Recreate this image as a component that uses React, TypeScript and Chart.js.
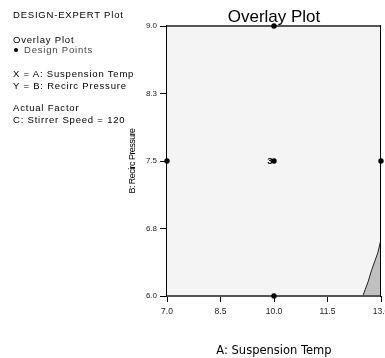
import React, { useEffect, useRef } from "react";
import { Chart, registerables } from "chart.js";

Chart.register(...registerables);

// ---- data ----
const designX = [10, 10, 7, 13, 10];
const designY = [9, 7.5, 7.5, 7.5, 6];
const designCounts = [1, 3, 1, 1, 1];

const boundaryX = [12.49, 12.64, 12.73, 12.83, 12.91, 13.0];
const boundaryY = [6.0, 6.16, 6.28, 6.39, 6.48, 6.63];

const xTickValues = [7, 8.5, 10, 11.5, 13];
const xTickLabels = ["7.0", "8.5", "10.0", "11.5", "13.0"];
const yTickValues = [6, 6.75, 7.5, 8.25, 9];
const yTickLabels = ["6.0", "6.8", "7.5", "8.3", "9.0"];

const chartTitle = "Overlay Plot";
const xTitle = "A: Suspension Temp";
const yTitle = "B: Recirc Pressure";

const infoLines = [
  "DESIGN-EXPERT Plot",
  "Overlay Plot",
  "Design Points",
  "X = A: Suspension Temp",
  "Y = B: Recirc Pressure",
  "Actual Factor",
  "C: Stirrer Speed = 120",
];

const SANS = "'Liberation Sans', Arial, Helvetica, sans-serif";

const framePlugin = {
  id: "plotFrame",
  beforeDraw(chart: any) {
    const { ctx, chartArea: a } = chart;
    ctx.save();
    ctx.fillStyle = "#f4f4f4";
    ctx.fillRect(a.left, a.top, a.right - a.left, a.bottom - a.top);
    ctx.restore();
  },
  beforeDatasetDraw(chart: any, args: any) {
    if (args.index !== 0) return;
    const { ctx, chartArea: a } = chart;
    ctx.save();
    ctx.strokeStyle = "#555";
    ctx.lineWidth = 2;
    ctx.beginPath();
    ctx.moveTo(a.left, a.top);
    ctx.lineTo(a.right, a.top);
    ctx.moveTo(a.left, a.bottom);
    ctx.lineTo(a.right, a.bottom);
    ctx.stroke();
    ctx.strokeStyle = "#000";
    ctx.lineWidth = 1;
    ctx.beginPath();
    ctx.moveTo(a.left - 0.5, a.top - 1);
    ctx.lineTo(a.left - 0.5, a.bottom + 1);
    ctx.moveTo(a.right - 0.5, a.top - 1);
    ctx.lineTo(a.right - 0.5, a.bottom + 1);
    ctx.stroke();
    ctx.restore();
  },
  afterDatasetsDraw(chart: any) {
    const { ctx } = chart;
    const xs = chart.scales.x;
    const ys = chart.scales.y;
    ctx.save();
    ctx.fillStyle = "#000";
    ctx.font = "bold 9.5px " + SANS;
    ctx.textAlign = "right";
    ctx.textBaseline = "middle";
    designCounts.forEach((c, i) => {
      if (c > 1) {
        const px = xs.getPixelForValue(designX[i]);
        const py = ys.getPixelForValue(designY[i]);
        ctx.fillText(String(c), px - 1.5, py + 0.5);
      }
    });
    ctx.restore();
  },
};

function condenseTitle(s: any) {
  if (s.__condensed) return;
  s.__condensed = true;
  const orig = s.drawTitle.bind(s);
  s.drawTitle = () => {
    const c = s.ctx;
    const prev = c.letterSpacing;
    c.letterSpacing = "-0.55px";
    orig();
    c.letterSpacing = prev || "0px";
  };
}

export default function App() {
  const ref = useRef<HTMLCanvasElement | null>(null);

  useEffect(() => {
    if (!ref.current) return;
    const chart = new Chart(ref.current, {
      type: "scatter",
      data: {
        datasets: [
          {
            type: "scatter",
            data: designX.map((x, i) => ({ x, y: designY[i] })),
            pointRadius: 2.7,
            pointBackgroundColor: "#000",
            pointBorderColor: "#000",
            pointBorderWidth: 0,
            clip: false,
          } as any,
          {
            type: "line",
            data: boundaryX.map((x, i) => ({ x, y: boundaryY[i] })),
            fill: "start",
            backgroundColor: "#c0c0c0",
            borderColor: "#222",
            borderWidth: 1,
            pointRadius: 0,
            tension: 0,
          } as any,
        ],
      },
      options: {
        animation: false,
        responsive: false,
        events: [],
        layout: { padding: { left: 0, right: 4, top: 0, bottom: 0 } },
        plugins: {
          legend: { display: false },
          tooltip: { enabled: false },
          title: {
            display: true,
            text: chartTitle,
            fullSize: false,
            color: "#000",
            font: { family: SANS, size: 17, weight: "normal", lineHeight: 1 },
            padding: { top: 9, bottom: 0 },
          },
        },
        scales: {
          x: {
            type: "linear",
            min: 7,
            max: 13,
            afterBuildTicks: (s: any) => {
              s.ticks = xTickValues.map((v) => ({ value: v }));
            },
            afterFit: (s: any) => {
              s.height = 62;
              s.paddingLeft = 0;
              s.paddingRight = 0;
            },
            ticks: {
              callback: (_v: any, i: number) => xTickLabels[i],
              font: { family: SANS, size: 8.5 },
              color: "#222",
              padding: 5,
              maxRotation: 0,
              autoSkip: false,
            },
            grid: { drawOnChartArea: false, drawTicks: true, tickLength: 6, tickColor: "#000", color: "#000" },
            border: { display: false },
            title: {
              display: true,
              text: xTitle,
              color: "#000",
              font: { family: "'DejaVu Sans', sans-serif", size: 11.5 },
              padding: { top: 2, bottom: 0 },
            },
          },
          y: {
            type: "linear",
            min: 6,
            max: 9,
            afterBuildTicks: (s: any) => {
              s.ticks = yTickValues.map((v) => ({ value: v }));
            },
            afterFit: (s: any) => {
              s.width = 167;
              s.paddingTop = 0;
              s.paddingBottom = 0;
              condenseTitle(s);
            },
            ticks: {
              callback: (_v: any, i: number) => yTickLabels[i],
              font: { family: SANS, size: 8 },
              color: "#222",
              padding: 3,
              autoSkip: false,
            },
            grid: { drawOnChartArea: false, drawTicks: true, tickLength: 7, tickColor: "#000", color: "#000" },
            border: { display: false },
            title: {
              display: true,
              text: yTitle,
              color: "#000",
              font: { family: SANS, size: 9 },
              padding: { top: 127.5, bottom: 0 },
            },
          },
        },
      } as any,
      plugins: [framePlugin],
    });
    return () => chart.destroy();
  }, []);

  const lineTops = [10, 34.5, 45, 68.5, 80.5, 103.2, 114.5];
  const textStyle: React.CSSProperties = {
    position: "absolute",
    left: 13,
    fontFamily: SANS,
    fontSize: "9.5px",
    letterSpacing: "0.8px",
    lineHeight: "10px",
    whiteSpace: "nowrap",
    color: "#000",
  };

  return (
    <div style={{ position: "absolute", left: 0, top: 0, width: 385, height: 358, background: "#fff" }}>
      <canvas ref={ref} width={385} height={358} style={{ display: "block" }} />
      {infoLines.map((t, i) =>
        i === 2 ? (
          <div key={i} style={{ ...textStyle, top: lineTops[i], left: 14, color: "#444" }}>
            <span
              style={{
                display: "inline-block",
                width: 4,
                height: 4,
                borderRadius: 2,
                background: "#000",
                marginRight: 6,
                verticalAlign: "1px",
              }}
            />
            {t}
          </div>
        ) : (
          <div key={i} style={{ ...textStyle, top: lineTops[i] }}>
            {t}
          </div>
        )
      )}
    </div>
  );
}
